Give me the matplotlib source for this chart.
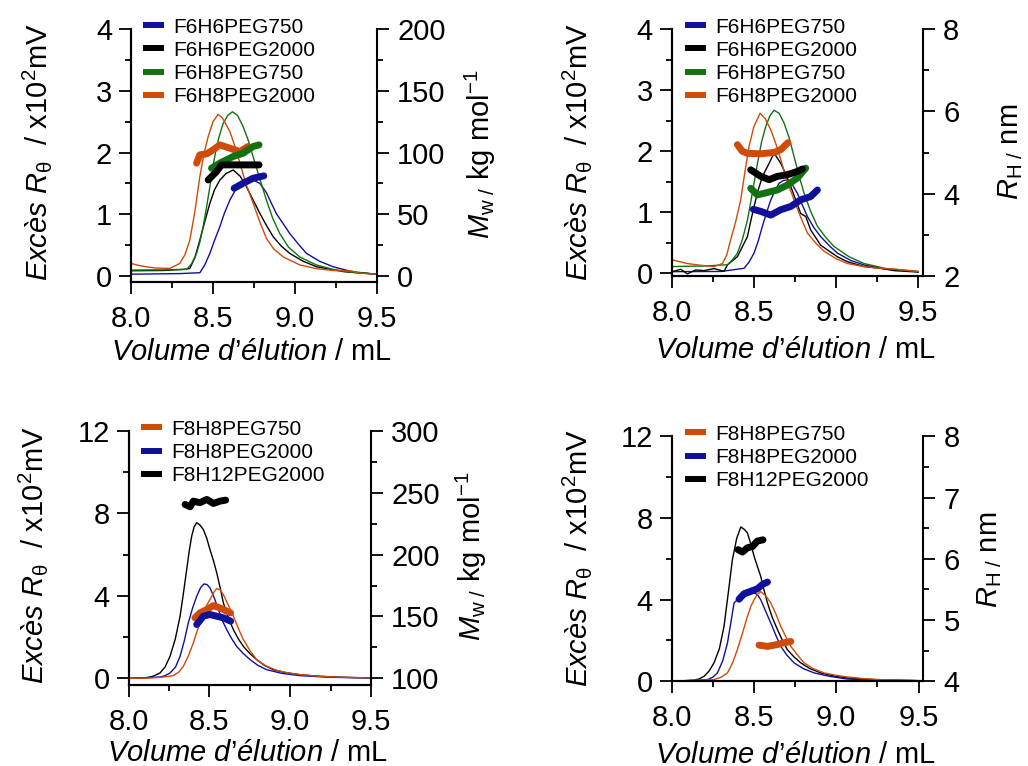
import matplotlib
matplotlib.use("Agg")
import matplotlib.pyplot as plt
from matplotlib.lines import Line2D
from matplotlib.ticker import MultipleLocator, FormatStrFormatter

plt.rcParams["font.family"] = ["Liberation Sans", "DejaVu Sans"]
plt.rcParams["mathtext.fontset"] = "custom"
plt.rcParams["mathtext.rm"] = "Liberation Sans"
plt.rcParams["mathtext.it"] = "Liberation Sans:italic"
plt.rcParams["mathtext.bf"] = "Liberation Sans:bold"
plt.rcParams["mathtext.sf"] = "Liberation Sans"

BLUE = "#10109a"
BLACK = "#000000"
GREEN = "#127212"
ORANGE = "#d04a08"

# ---- top row: F6 series, light scattering trace (x10^2 mV) vs elution volume (mL)
f6h6_750_v = [8.0, 8.3, 8.42, 8.45, 8.481, 8.51, 8.542, 8.57, 8.603, 8.634, 8.664, 8.70, 8.745, 8.786,
              8.826, 8.856, 8.887, 8.93, 8.968, 9.02, 9.07, 9.15, 9.232, 9.35, 9.498]
f6h6_750_ls = [0.03, 0.04, 0.054, 0.18, 0.367, 0.58, 0.80, 1.02, 1.23, 1.38, 1.47, 1.53, 1.555, 1.5,
               1.35, 1.18, 1.01, 0.84, 0.69, 0.52, 0.367, 0.24, 0.151, 0.07, 0.03]
f6h6_2000_v = [8.0, 8.2, 8.33, 8.359, 8.39, 8.42, 8.45, 8.481, 8.51, 8.542, 8.58, 8.623, 8.665, 8.704,
               8.745, 8.786, 8.826, 8.867, 8.915, 8.968, 9.05, 9.131, 9.3, 9.498]
f6h6_2000_ls = [0.086, 0.09, 0.11, 0.124, 0.3, 0.583, 0.88, 1.177, 1.4, 1.555, 1.66, 1.717, 1.62, 1.447,
                1.23, 1.015, 0.82, 0.637, 0.49, 0.367, 0.24, 0.151, 0.07, 0.03]
f6h8_750_v = [8.0, 8.2, 8.339, 8.37, 8.40, 8.42, 8.44, 8.46, 8.481, 8.50, 8.522, 8.542, 8.562, 8.59,
              8.619, 8.65, 8.684, 8.715, 8.745, 8.785, 8.826, 8.865, 8.907, 8.96, 9.029, 9.13, 9.232,
              9.35, 9.498]
f6h8_750_ls = [0.097, 0.1, 0.108, 0.2, 0.367, 0.55, 0.80, 1.1, 1.447, 1.78, 2.094, 2.3, 2.47, 2.6,
               2.66, 2.6, 2.42, 2.2, 1.93, 1.58, 1.23, 0.93, 0.69, 0.47, 0.31, 0.18, 0.108, 0.06, 0.03]
f6h8_2000_v = [8.0, 8.05, 8.095, 8.15, 8.237, 8.298, 8.33, 8.359, 8.39, 8.42, 8.445, 8.471, 8.50, 8.532,
               8.56, 8.603, 8.634, 8.664, 8.70, 8.745, 8.785, 8.826, 8.87, 8.928, 9.029, 9.13, 9.232,
               9.35, 9.38, 9.498]
f6h8_2000_ls = [0.205, 0.17, 0.15, 0.13, 0.124, 0.205, 0.35, 0.583, 1.05, 1.61, 1.98, 2.26, 2.5, 2.62,
                2.55, 2.34, 2.1, 1.83, 1.5, 1.18, 0.88, 0.61, 0.44, 0.31, 0.18, 0.12, 0.09, 0.08, 0.05,
                0.03]

# molar mass Mw (kg/mol)
f6h6_750_mw_v = [8.629, 8.684, 8.745, 8.81]
f6h6_750_mw = [71.1, 75.1, 79.2, 81.1]
f6h6_2000_mw_v = [8.471, 8.522, 8.552, 8.623, 8.704, 8.781]
f6h6_2000_mw = [77.8, 84.6, 90.0, 90.0, 90.0, 90.0]
f6h8_750_mw_v = [8.491, 8.542, 8.623, 8.684, 8.745, 8.781]
f6h8_750_mw = [87.3, 91.4, 96.8, 99.5, 104.9, 106.2]
f6h8_2000_mw_v = [8.40, 8.42, 8.461, 8.501, 8.542, 8.603, 8.664, 8.714]
f6h8_2000_mw = [91.4, 98.1, 98.9, 102.2, 106.2, 103.5, 100.8, 104.9]

# second detector trace (top right)
f6h6_750_v2 = [8.004, 8.3, 8.44, 8.47, 8.501, 8.527, 8.552, 8.578, 8.603, 8.63, 8.654, 8.68, 8.704,
               8.735, 8.765, 8.795, 8.826, 8.865, 8.907, 8.96, 9.009, 9.09, 9.171, 9.3, 9.5]
f6h6_750_ls2 = [0.027, 0.03, 0.082, 0.18, 0.33, 0.53, 0.77, 1.0, 1.20, 1.36, 1.475, 1.52, 1.53, 1.45,
                1.31, 1.12, 0.93, 0.75, 0.60, 0.45, 0.33, 0.21, 0.137, 0.07, 0.027]
f6h6_2000_v2 = [8.004, 8.055, 8.095, 8.146, 8.197, 8.258, 8.319, 8.339, 8.40, 8.461, 8.48, 8.501, 8.525,
                8.552, 8.593, 8.623, 8.64, 8.664, 8.695, 8.725, 8.755, 8.785, 8.816, 8.846, 8.907,
                9.009, 9.07, 9.171, 9.273, 9.354, 9.5]
f6h6_2000_ls2 = [0.027, 0.066, -0.01, 0.055, 0.044, 0.077, 0.033, 0.137, 0.273, 0.60, 0.84, 1.09, 1.35,
                 1.585, 1.80, 1.97, 1.9, 1.80, 1.62, 1.42, 1.2, 0.98, 0.93, 0.71, 0.46, 0.27, 0.19,
                 0.11, 0.08, 0.044, 0.02]
f6h8_750_v2 = [8.0, 8.2, 8.339, 8.37, 8.40, 8.43, 8.461, 8.49, 8.522, 8.547, 8.572, 8.598, 8.623, 8.654,
               8.684, 8.715, 8.745, 8.775, 8.806, 8.845, 8.887, 8.94, 8.988, 9.08, 9.171, 9.3, 9.5]
f6h8_750_ls2 = [0.11, 0.12, 0.14, 0.22, 0.33, 0.55, 0.87, 1.3, 1.80, 2.15, 2.40, 2.58, 2.67, 2.62, 2.46,
                2.22, 1.91, 1.6, 1.31, 1.02, 0.77, 0.58, 0.44, 0.27, 0.16, 0.08, 0.03]
f6h8_2000_v2 = [8.004, 8.05, 8.095, 8.18, 8.258, 8.309, 8.335, 8.359, 8.39, 8.42, 8.445, 8.471, 8.50,
                8.538, 8.57, 8.603, 8.634, 8.664, 8.70, 8.745, 8.785, 8.826, 8.875, 8.928, 9.0, 9.07,
                9.17, 9.273, 9.35, 9.5]
f6h8_2000_ls2 = [0.22, 0.19, 0.16, 0.13, 0.11, 0.16, 0.3, 0.55, 0.85, 1.20, 1.65, 2.08, 2.4, 2.62, 2.53,
                 2.35, 2.12, 1.86, 1.53, 1.20, 0.92, 0.66, 0.5, 0.36, 0.24, 0.16, 0.11, 0.08, 0.07, 0.03]

# hydrodynamic radius RH (nm)
f6h6_750_rh_v = [8.497, 8.542, 8.603, 8.664, 8.725, 8.785, 8.846, 8.887]
f6h6_750_rh = [3.62, 3.57, 3.48, 3.61, 3.69, 3.85, 3.93, 4.09]
f6h6_2000_rh_v = [8.481, 8.542, 8.593, 8.643, 8.704, 8.765, 8.796]
f6h6_2000_rh = [4.58, 4.42, 4.34, 4.42, 4.46, 4.54, 4.60]
f6h8_750_rh_v = [8.481, 8.522, 8.583, 8.643, 8.704, 8.765, 8.816]
f6h8_750_rh = [4.13, 3.97, 4.03, 4.09, 4.21, 4.38, 4.62]
f6h8_2000_rh_v = [8.40, 8.43, 8.461, 8.542, 8.623, 8.664, 8.708]
f6h8_2000_rh = [5.19, 5.03, 4.98, 4.97, 5.0, 5.07, 5.24]

# ---- bottom row: F8 series
f8h8_750_v = [8.0, 8.132, 8.2, 8.276, 8.31, 8.338, 8.37, 8.40, 8.43, 8.462, 8.483, 8.503, 8.525, 8.545,
              8.565, 8.586, 8.617, 8.648, 8.68, 8.71, 8.75, 8.792, 8.85, 8.916, 8.99, 9.06, 9.16, 9.267,
              9.5]
f8h8_750_ls = [0, 0.016, 0.05, 0.13, 0.3, 0.58, 1.1, 1.72, 2.45, 3.17, 3.55, 3.82, 4.15, 4.36, 4.3, 4.06,
               3.55, 3.01, 2.4, 1.88, 1.35, 0.91, 0.6, 0.39, 0.26, 0.18, 0.11, 0.065, 0.016]
f8h8_2000_v = [8.0, 8.194, 8.225, 8.256, 8.29, 8.318, 8.345, 8.369, 8.395, 8.421, 8.445, 8.466, 8.485,
               8.503, 8.53, 8.555, 8.58, 8.607, 8.637, 8.668, 8.71, 8.751, 8.8, 8.854, 8.95, 9.06, 9.25,
               9.5]
f8h8_2000_ls = [0, 0.065, 0.13, 0.26, 0.55, 1.07, 1.85, 2.69, 3.4, 3.98, 4.4, 4.58, 4.55, 4.39, 3.9,
                3.34, 2.8, 2.36, 1.93, 1.55, 1.2, 0.91, 0.63, 0.42, 0.24, 0.13, 0.05, 0.016]
f8h12_2000_v = [8.0, 8.111, 8.15, 8.194, 8.225, 8.256, 8.288, 8.318, 8.34, 8.359, 8.375, 8.39, 8.405,
                8.421, 8.44, 8.462, 8.483, 8.503, 8.525, 8.545, 8.566, 8.586, 8.617, 8.648, 8.68, 8.71,
                8.75, 8.792, 8.84, 8.895, 8.97, 9.06, 9.16, 9.267, 9.5]
f8h12_2000_ls = [0, 0.03, 0.1, 0.26, 0.55, 1.07, 1.9, 3.01, 4.2, 5.28, 6.2, 6.9, 7.35, 7.55, 7.45, 7.22,
                 6.8, 6.25, 5.7, 5.12, 4.4, 3.66, 2.95, 2.36, 1.9, 1.55, 1.2, 0.91, 0.63, 0.42, 0.28,
                 0.18, 0.11, 0.065, 0.016]

f8h8_750_mw_v = [8.41, 8.441, 8.483, 8.524, 8.565, 8.607, 8.631]
f8h8_750_mw = [148.9, 152.9, 155.6, 158.8, 156.9, 154.3, 152.9]
f8h8_2000_mw_v = [8.421, 8.462, 8.503, 8.545, 8.586, 8.631]
f8h8_2000_mw = [143.5, 150.2, 151.6, 150.2, 148.9, 146.2]
f8h12_2000_mw_v = [8.349, 8.38, 8.40, 8.441, 8.483, 8.524, 8.565, 8.60]
f8h12_2000_mw = [240.6, 238.7, 243.3, 242.0, 244.7, 241.4, 243.3, 244.1]

f8h8_750_v2 = [8.0, 8.257, 8.3, 8.339, 8.37, 8.399, 8.43, 8.46, 8.48, 8.501, 8.52, 8.541, 8.57, 8.602,
               8.633, 8.663, 8.694, 8.724, 8.765, 8.805, 8.86, 8.926, 9.0, 9.068, 9.17, 9.271, 9.5]
f8h8_750_ls2 = [0, 0.08, 0.2, 0.41, 0.9, 1.55, 2.35, 3.18, 3.65, 4.0, 4.25, 4.39, 4.2, 3.84, 3.3, 2.69,
                2.18, 1.71, 1.28, 0.90, 0.62, 0.41, 0.29, 0.21, 0.13, 0.08, 0.03]
f8h8_2000_v2 = [8.0, 8.217, 8.25, 8.278, 8.31, 8.339, 8.36, 8.379, 8.40, 8.42, 8.46, 8.501, 8.52, 8.541,
                8.57, 8.602, 8.633, 8.663, 8.70, 8.744, 8.8, 8.866, 8.96, 9.068, 9.25, 9.5]
f8h8_2000_ls2 = [0, 0.08, 0.2, 0.41, 1.0, 1.88, 2.9, 3.84, 4.0, 4.08, 4.20, 4.33, 4.25, 4.0, 3.45, 2.86,
                 2.25, 1.71, 1.28, 0.90, 0.62, 0.41, 0.24, 0.11, 0.05, 0.03]
f8h12_2000_v2 = [8.0, 8.136, 8.167, 8.197, 8.227, 8.257, 8.29, 8.318, 8.345, 8.369, 8.395, 8.42, 8.44,
                 8.46, 8.48, 8.501, 8.52, 8.541, 8.56, 8.582, 8.61, 8.643, 8.673, 8.703, 8.745, 8.785,
                 8.84, 8.906, 8.98, 9.068, 9.25, 9.5]
f8h12_2000_ls2 = [0, 0.05, 0.12, 0.245, 0.5, 0.90, 1.6, 2.69, 4.4, 5.96, 7.0, 7.56, 7.45, 7.27, 6.75,
                  6.12, 5.65, 5.14, 4.5, 3.84, 3.15, 2.53, 2.0, 1.55, 1.18, 0.90, 0.62, 0.41, 0.27, 0.16,
                  0.07, 0.03]

f8h8_750_rh_v = [8.531, 8.582, 8.643, 8.683, 8.724]
f8h8_750_rh = [4.59, 4.57, 4.60, 4.63, 4.65]
f8h8_2000_rh_v = [8.409, 8.44, 8.48, 8.521, 8.551, 8.582]
f8h8_2000_rh = [5.34, 5.43, 5.47, 5.51, 5.58, 5.62]
f8h12_2000_rh_v = [8.403, 8.43, 8.46, 8.491, 8.521, 8.555]
f8h12_2000_rh = [6.15, 6.11, 6.18, 6.20, 6.29, 6.31]

LEFT_LABEL = r"$\mathit{Excès}\ \mathit{R}_{\mathrm{\theta}}\ \ $/ x10$^{2}$mV"
MW_LABEL = r"$\mathit{M}_{\mathrm{w\ /}}$ kg mol$^{-1}$"
RH_LABEL = r"$\mathit{R}_{\mathrm{H\ /}}$ nm"
X_LABEL = r"$\mathit{Volume\ d’élution}$ / mL"

TICK_FS = 21
LABEL_FS = 21
LEG_FS = 15

fig = plt.figure(figsize=(10.28, 7.66), dpi=100)


def panel(rect, xmax, ylim, ymaj, ymin, rlim, rmaj, rmin, rlabel, ls, side, legend_order,
          leg_xy, xlab_xy, ylab_x, ylab_y, rlab_x, rlab_y):
    ax = fig.add_axes(rect)
    rax = ax.twinx()
    for name, v, y, color in ls:
        ax.plot(v, y, color=color, lw=1.0)
    for name, v, y, color in side:
        rax.plot(v, y, color=color, lw=5, solid_capstyle="round")
    ax.set_xlim(8.0, xmax)
    ax.set_ylim(*ylim)
    rax.set_ylim(*rlim)
    ax.xaxis.set_major_locator(MultipleLocator(0.5))
    ax.xaxis.set_minor_locator(MultipleLocator(0.25))
    ax.xaxis.set_major_formatter(FormatStrFormatter("%.1f"))
    ax.yaxis.set_major_locator(MultipleLocator(ymaj))
    ax.yaxis.set_minor_locator(MultipleLocator(ymin))
    ax.yaxis.set_major_formatter(FormatStrFormatter("%g"))
    rax.yaxis.set_major_locator(MultipleLocator(rmaj))
    rax.yaxis.set_minor_locator(MultipleLocator(rmin))
    rax.yaxis.set_major_formatter(FormatStrFormatter("%g"))
    for a in (ax, rax):
        a.spines["top"].set_visible(False)
        for s in ("left", "right", "bottom"):
            a.spines[s].set_linewidth(1.5)
        a.tick_params(which="major", length=8.5, width=1.3, labelsize=TICK_FS)
        a.tick_params(which="minor", length=4.3, width=1.3)
    ax.spines["right"].set_visible(False)
    ax.tick_params(axis="x", which="major", pad=8)
    ax.tick_params(axis="y", which="major", pad=5)
    rax.tick_params(axis="y", which="major", pad=6)

    ax.set_xlabel(X_LABEL, fontsize=LABEL_FS)
    ax.xaxis.set_label_coords(*xlab_xy)
    ax.xaxis.label.set_va("center")
    ax.set_ylabel(LEFT_LABEL, fontsize=LABEL_FS)
    ax.yaxis.set_label_coords(ylab_x, ylab_y)
    ax.yaxis.label.set_va("center")
    rax.set_ylabel(rlabel, fontsize=LABEL_FS)
    rax.yaxis.set_label_coords(rlab_x, rlab_y)
    rax.yaxis.label.set_va("center")

    lookup = {name: color for name, v, y, color in ls}
    handles = [Line2D([], [], color=lookup[n], lw=4.3, solid_capstyle="butt") for n in legend_order]
    fig.legend(handles, legend_order, loc="upper left", bbox_to_anchor=leg_xy,
               bbox_transform=fig.transFigure, frameon=False, fontsize=LEG_FS,
               handlelength=1.0, handletextpad=0.45, labelspacing=0.2,
               borderpad=0, borderaxespad=0)
    return ax, rax


top_names = ["F6H6PEG750", "F6H6PEG2000", "F6H8PEG750", "F6H8PEG2000"]
bot_names = ["F8H8PEG750", "F8H8PEG2000", "F8H12PEG2000"]

panel([0.1274, 0.6318, 0.2393, 0.3303], 9.5, (-0.097, 4), 1, 0.5, (-4.86, 200), 50, 25, MW_LABEL,
      [("F6H6PEG750", f6h6_750_v, f6h6_750_ls, BLUE),
       ("F6H6PEG2000", f6h6_2000_v, f6h6_2000_ls, BLACK),
       ("F6H8PEG750", f6h8_750_v, f6h8_750_ls, GREEN),
       ("F6H8PEG2000", f6h8_2000_v, f6h8_2000_ls, ORANGE)],
      [("F6H8PEG2000", f6h8_2000_mw_v, f6h8_2000_mw, ORANGE),
       ("F6H8PEG750", f6h8_750_mw_v, f6h8_750_mw, GREEN),
       ("F6H6PEG2000", f6h6_2000_mw_v, f6h6_2000_mw, BLACK),
       ("F6H6PEG750", f6h6_750_mw_v, f6h6_750_mw, BLUE)],
      top_names, (0.139, 0.977), (0.492, -0.277), -0.382, 0.512, 1.419, 0.504)

panel([0.6534, 0.6397, 0.2445, 0.3224], 9.53, (-0.044, 4), 1, 0.5, (2, 8), 2, 1, RH_LABEL,
      [("F6H6PEG750", f6h6_750_v2, f6h6_750_ls2, BLUE),
       ("F6H6PEG2000", f6h6_2000_v2, f6h6_2000_ls2, BLACK),
       ("F6H8PEG750", f6h8_750_v2, f6h8_750_ls2, GREEN),
       ("F6H8PEG2000", f6h8_2000_v2, f6h8_2000_ls2, ORANGE)],
      [("F6H8PEG2000", f6h8_2000_rh_v, f6h8_2000_rh, ORANGE),
       ("F6H8PEG750", f6h8_750_rh_v, f6h8_750_rh, GREEN),
       ("F6H6PEG2000", f6h6_2000_rh_v, f6h6_2000_rh, BLACK),
       ("F6H6PEG750", f6h6_750_rh_v, f6h6_750_rh, BLUE)],
      top_names, (0.6663, 0.977), (0.493, -0.30), -0.377, 0.50, 1.35, 0.502)

panel([0.1252, 0.1061, 0.2357, 0.3312], 9.5, (-0.31, 12), 4, 2, (94.8, 300), 50, 25, MW_LABEL,
      [("F8H12PEG2000", f8h12_2000_v, f8h12_2000_ls, BLACK),
       ("F8H8PEG2000", f8h8_2000_v, f8h8_2000_ls, BLUE),
       ("F8H8PEG750", f8h8_750_v, f8h8_750_ls, ORANGE)],
      [("F8H12PEG2000", f8h12_2000_mw_v, f8h12_2000_mw, BLACK),
       ("F8H8PEG750", f8h8_750_mw_v, f8h8_750_mw, ORANGE),
       ("F8H8PEG2000", f8h8_2000_mw_v, f8h8_2000_mw, BLUE)],
      bot_names, (0.137, 0.452), (0.49, -0.269), -0.397, 0.513, 1.416, 0.505)

panel([0.6534, 0.1106, 0.2449, 0.3198], 9.53, (0, 12), 4, 2, (4, 8), 1, 0.5, RH_LABEL,
      [("F8H12PEG2000", f8h12_2000_v2, f8h12_2000_ls2, BLACK),
       ("F8H8PEG2000", f8h8_2000_v2, f8h8_2000_ls2, BLUE),
       ("F8H8PEG750", f8h8_750_v2, f8h8_750_ls2, ORANGE)],
      [("F8H12PEG2000", f8h12_2000_rh_v, f8h12_2000_rh, BLACK),
       ("F8H8PEG2000", f8h8_2000_rh_v, f8h8_2000_rh, BLUE),
       ("F8H8PEG750", f8h8_750_rh_v, f8h8_750_rh, ORANGE)],
      bot_names, (0.6663, 0.4455), (0.493, -0.30), -0.375, 0.503, 1.261, 0.495)

fig.savefig("out.png", dpi=100)
